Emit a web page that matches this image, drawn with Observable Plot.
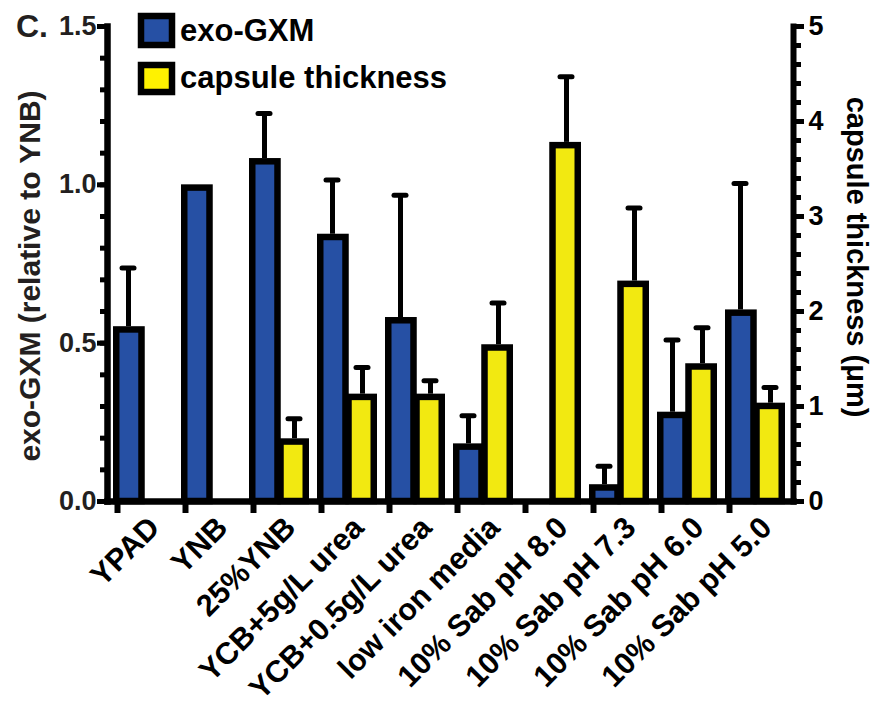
<!DOCTYPE html>
<html>
<head>
<meta charset="utf-8">
<script src="https://cdn.jsdelivr.net/npm/d3@7"></script>
<script src="https://cdn.jsdelivr.net/npm/@observablehq/plot@0.6"></script>
<style>
  html, body { margin: 0; padding: 0; background: #fff; }
  #wrap { position: relative; width: 880px; height: 709px; }
  #overlay { position: absolute; left: 0; top: 0; pointer-events: none; }
  text { font-family: "Liberation Sans", Arial, sans-serif; }
</style>
</head>
<body>
<div id="wrap"></div>
<script>
// ---- data ----
const categories = ["YPAD", "YNB", "25%YNB", "YCB+5g/L urea", "YCB+0.5g/L urea", "low iron media",
  "10% Sab pH 8.0", "10% Sab pH 7.3", "10% Sab pH 6.0", "10% Sab pH 5.0"];
// exo-GXM relative to YNB (left axis)
const gxm    = [0.552, 1.000, 1.083, 0.844, 0.581, 0.182, null, 0.053, 0.282, 0.605];
const gxmErr = [0.185, null,  0.142, 0.171, 0.386, 0.089, null, 0.058, 0.228, 0.399];
// capsule thickness in µm (right axis)
const capsule    = [null, null, 0.66, 1.13, 1.13, 1.65, 3.78, 2.32, 1.45, 1.035];
const capsuleErr = [null, null, 0.21, 0.28, 0.14, 0.44, 0.69, 0.77, 0.38, 0.165];
const leftTicks = [0, 0.5, 1.0, 1.5];
const rightTicks = [0, 1, 2, 3, 4, 5];
const seriesNames = ["exo-GXM", "capsule thickness"];
const leftTitle = "exo-GXM (relative to YNB)";
const rightTitle = "capsule thickness (μm)";
const panelLabel = "C.";

// ---- layout / style ----
const BLUE = "#2650a4", YELLOW = "#f2e911", YELLOW_LEG = "#fff200";
const k = 1.5 / 5; // right-axis units -> left-axis units
const pad = 8 / 68;
const step = (785 - 113) / (categories.length - pad);
const bw = step * (1 - pad);
const half = bw / 2;
const sw = 6.5;

const gxData = categories.map((c, i) => ({c, v: gxm[i], e: gxmErr[i]})).filter(d => d.v != null);
const gxErr = gxData.filter(d => d.e != null);
const capData = categories.map((c, i) => ({c, v: capsule[i] == null ? null : capsule[i] * k,
  e: capsuleErr[i] == null ? null : capsuleErr[i] * k})).filter(d => d.v != null);
const capErr = capData.filter(d => d.e != null);

const font = "'Liberation Sans', Arial, sans-serif";

const chart = Plot.plot({
  width: 880, height: 709,
  marginTop: 26, marginBottom: 208, marginLeft: 107, marginRight: 87,
  style: {fontFamily: font, fontWeight: "bold", background: "white", overflow: "visible"},
  x: {domain: categories, range: [113, 785], paddingInner: pad, paddingOuter: 0, axis: null},
  y: {domain: [0, 1.5], axis: null},
  marks: [
    // error bars (behind bars)
    Plot.ruleX(gxErr, {x: "c", y1: "v", y2: d => d.v + d.e, dx: -half / 2, stroke: "#000", strokeWidth: 5}),
    Plot.tickY(gxErr, {x: "c", y: d => d.v + d.e, insetLeft: half / 2 - 6, insetRight: bw - half / 2 - 6,
      stroke: "#000", strokeWidth: 5, strokeLinecap: "round"}),
    Plot.ruleX(capErr, {x: "c", y1: "v", y2: d => d.v + d.e, dx: half / 2, stroke: "#000", strokeWidth: 5}),
    Plot.tickY(capErr, {x: "c", y: d => d.v + d.e, insetLeft: bw - half / 2 - 6, insetRight: half / 2 - 6,
      stroke: "#000", strokeWidth: 5, strokeLinecap: "round"}),
    // bars
    Plot.barY(gxData, {x: "c", y: "v", fill: BLUE, stroke: "#000", strokeWidth: sw,
      insetLeft: sw / 2, insetRight: half + 1.5, insetTop: sw / 2}),
    Plot.barY(capData, {x: "c", y: "v", fill: YELLOW, stroke: "#000", strokeWidth: sw,
      insetLeft: half + 1.5, insetRight: sw / 2, insetTop: sw / 2}),
    // axis lines
    Plot.frame({anchor: "left", stroke: "#000", strokeWidth: 6.5, strokeLinecap: "square"}),
    Plot.frame({anchor: "right", stroke: "#000", strokeWidth: 6, strokeLinecap: "square"}),
    Plot.frame({anchor: "bottom", stroke: "#000", strokeWidth: 6.5, strokeLinecap: "square"}),
    // left axis
    Plot.axisY({ticks: d3.range(0, 1.501, 0.1), tickSize: 7, tickFormat: () => "", strokeWidth: 5, stroke: "#000", label: null}),
    Plot.axisY({ticks: leftTicks, tickFormat: d3.format(".1f"), tickSize: 10, tickPadding: 1, strokeWidth: 5,
      stroke: "#000", fill: "#231f20", fontSize: 27, fontWeight: "bold", label: null}),
    // right axis
    Plot.axisY({anchor: "right", ticks: d3.range(0, 5.001, 0.2).map(v => v * k), tickSize: 7, tickFormat: () => "",
      strokeWidth: 5, stroke: "#000", label: null}),
    Plot.axisY({anchor: "right", ticks: rightTicks.map(v => v * k), tickFormat: v => String(Math.round(v / k)),
      tickSize: 10, tickPadding: 5, strokeWidth: 5, stroke: "#000", fill: "#000", fontSize: 27, fontWeight: "bold",
      fontFamily: "'Liberation Sans Narrow', 'Liberation Sans', Arial, sans-serif", label: null}),
    // x ticks at left side of each group
    Plot.axisX({tickSize: 12, tickFormat: () => "", dx: -(bw / 2 - 4), strokeWidth: 6, stroke: "#000", label: null}),
    // category labels
    Plot.text(categories, {x: d => d, frameAnchor: "bottom", rotate: -45, textAnchor: "end", lineAnchor: "middle",
      dx: 11, dy: 21, fontSize: 30.5, fontWeight: "bold", fill: "#000"}),
    // axis titles
    Plot.text([leftTitle], {frameAnchor: "left", rotate: -90, dx: -77, dy: 12, fontSize: 30, fontWeight: "bold",
      textAnchor: "middle", lineAnchor: "middle", fill: "#231f20"}),
    Plot.text([rightTitle], {frameAnchor: "right", rotate: 90, dx: 63, dy: -7, fontSize: 29, fontWeight: "bold",
      textAnchor: "middle", lineAnchor: "middle", fill: "#000"})
  ]
});

const wrap = document.getElementById("wrap");
wrap.appendChild(chart);

// legend + panel label overlay
const ns = "http://www.w3.org/2000/svg";
const ov = document.createElementNS(ns, "svg");
ov.setAttribute("id", "overlay");
ov.setAttribute("width", 880);
ov.setAttribute("height", 120);
const legendColors = [BLUE, YELLOW_LEG];
const swY = [16, 65], swH = [29, 27], txtY = [41, 88];
seriesNames.forEach((name, i) => {
  const r = document.createElementNS(ns, "rect");
  r.setAttribute("x", 141); r.setAttribute("y", swY[i]);
  r.setAttribute("width", 31); r.setAttribute("height", swH[i]);
  r.setAttribute("fill", legendColors[i]); r.setAttribute("stroke", "#000"); r.setAttribute("stroke-width", 6.5);
  ov.appendChild(r);
  const t = document.createElementNS(ns, "text");
  t.setAttribute("x", 180); t.setAttribute("y", txtY[i]);
  t.setAttribute("font-size", 31); t.setAttribute("font-weight", "bold");
  t.setAttribute("fill", "#000");
  t.textContent = name;
  ov.appendChild(t);
});
const pl = document.createElementNS(ns, "text");
pl.setAttribute("x", 16); pl.setAttribute("y", 37);
pl.setAttribute("font-size", 32); pl.setAttribute("font-weight", "bold"); pl.setAttribute("fill", "#231f20");
pl.textContent = panelLabel;
ov.appendChild(pl);
wrap.appendChild(ov);
</script>
</body>
</html>
